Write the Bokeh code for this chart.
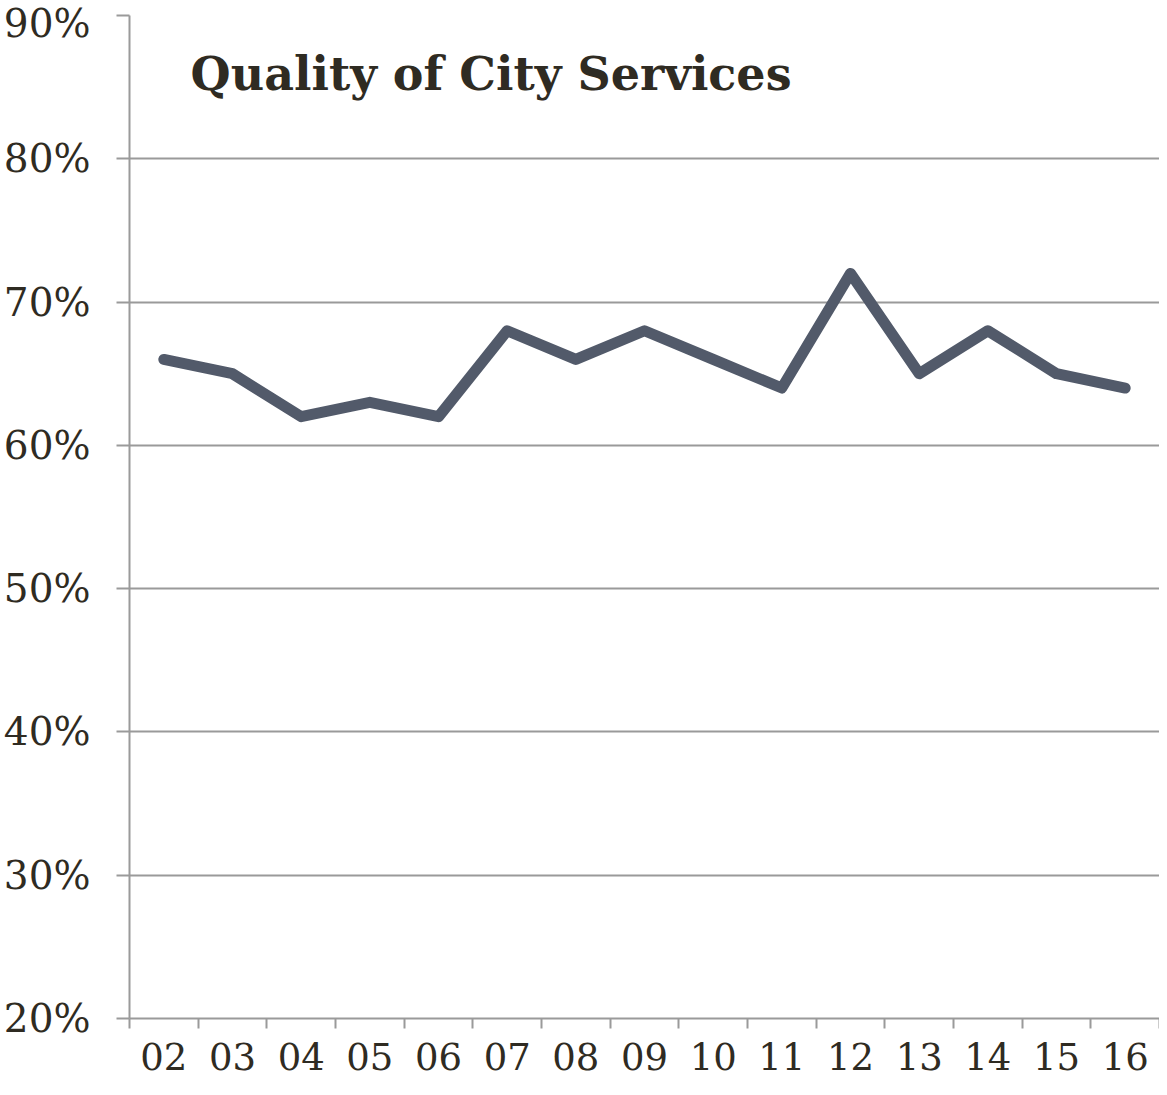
from bokeh.plotting import figure
from bokeh.models import FixedTicker, PrintfTickFormatter, Label, Range1d
from bokeh.embed import file_html
from bokeh.resources import INLINE

years = ["02", "03", "04", "05", "06", "07", "08", "09", "10", "11", "12", "13", "14", "15", "16"]
quality = [66, 65, 62, 63, 62, 68, 66, 68, 66, 64, 72, 65, 68, 65, 64]
y_ticks = [20, 30, 40, 50, 60, 70, 80, 90]
title_text = "Quality of City Services"

TEXT = "#2F2B22"
GRID = "#9A9A9A"
LINE = "#525A6A"
FONT = "DejaVu Serif"

xs = list(range(len(years)))

p = figure(width=1159, height=1087, output_backend="svg", toolbar_location=None,
           x_range=Range1d(-0.5, len(years) - 0.5), y_range=Range1d(20, 90),
           min_border_left=126, min_border_right=0, min_border_top=15, min_border_bottom=69)
p.outline_line_color = None
p.background_fill_color = "white"
p.border_fill_color = "white"

p.line(xs, quality, line_color=LINE, line_width=11, line_join="round", line_cap="round")

# x axis
xa = p.xaxis[0]
xa.ticker = FixedTicker(ticks=xs, minor_ticks=[i - 0.5 for i in range(len(years) + 1)])
xa.major_label_overrides = {i: y for i, y in enumerate(years)}
xa.major_tick_out = 0
xa.major_tick_in = 0
xa.minor_tick_out = 10
xa.minor_tick_in = 0
xa.minor_tick_line_color = GRID
xa.minor_tick_line_width = 2
xa.axis_line_color = GRID
xa.axis_line_width = 2
xa.major_label_text_font = FONT
xa.major_label_text_font_size = "37px"
xa.major_label_text_color = TEXT
xa.major_label_standoff = 14

# y axis
ya = p.yaxis[0]
ya.ticker = FixedTicker(ticks=y_ticks, minor_ticks=[])
ya.formatter = PrintfTickFormatter(format="%d%%")
ya.major_tick_out = 13
ya.major_tick_in = 0
ya.major_tick_line_color = GRID
ya.major_tick_line_width = 2
ya.axis_line_color = GRID
ya.axis_line_width = 2
ya.major_label_text_font = FONT
ya.major_label_text_font_size = "39px"
ya.major_label_text_color = TEXT
ya.major_label_standoff = 26

p.xgrid.grid_line_color = None
p.ygrid.ticker = FixedTicker(ticks=y_ticks)
p.ygrid.grid_line_color = GRID
p.ygrid.grid_line_width = 2

p.add_layout(Label(x=0.39, y=85.9, text=title_text, text_font=FONT, text_font_style="bold",
                   text_font_size="46px", text_color=TEXT, text_baseline="alphabetic"))

open("out.html", "w").write(file_html(p, INLINE))
